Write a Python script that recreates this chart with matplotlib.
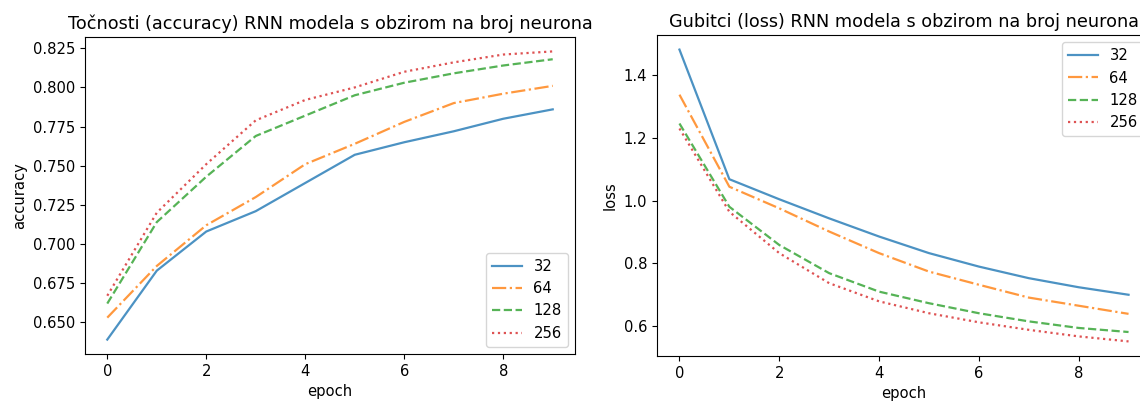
import matplotlib
matplotlib.use("Agg")
import matplotlib.pyplot as plt

epochs = list(range(10))
neurons = ["32", "64", "128", "256"]

acc_32 = [0.639, 0.683, 0.708, 0.721, 0.739, 0.757, 0.765, 0.772, 0.780, 0.786]
acc_64 = [0.653, 0.686, 0.712, 0.730, 0.751, 0.764, 0.778, 0.790, 0.796, 0.801]
acc_128 = [0.662, 0.714, 0.743, 0.769, 0.782, 0.795, 0.803, 0.809, 0.814, 0.818]
acc_256 = [0.667, 0.720, 0.751, 0.779, 0.792, 0.800, 0.810, 0.816, 0.821, 0.823]

loss_32 = [1.482, 1.068, 1.004, 0.943, 0.885, 0.832, 0.789, 0.752, 0.723, 0.699]
loss_64 = [1.338, 1.044, 0.975, 0.901, 0.832, 0.773, 0.731, 0.690, 0.664, 0.638]
loss_128 = [1.246, 0.980, 0.858, 0.768, 0.709, 0.672, 0.640, 0.614, 0.593, 0.580]
loss_256 = [1.230, 0.964, 0.832, 0.736, 0.678, 0.640, 0.611, 0.587, 0.566, 0.550]

colors = ["#1f77b4", "#ff7f0e", "#2ca02c", "#d62728"]
styles = ["-", "-.", "--", ":"]

plt.rcParams["font.size"] = 10.6
plt.rcParams["axes.titlesize"] = 12.7


def draw(ax, series, ylabel, title, legend_loc):
    for values, name, color, ls in zip(series, neurons, colors, styles):
        ax.plot(epochs, values, color=color, ls=ls, lw=1.6, alpha=0.8, label=name)
    ax.set_xticks([0, 2, 4, 6, 8])
    ax.set_xlabel("epoch")
    ax.set_ylabel(ylabel)
    ax.set_title(title)
    ax.legend(loc=legend_loc)


fig = plt.figure(figsize=(11.4, 4.03), dpi=100)
ax1 = fig.add_axes([85 / 1140, 49 / 403, 490 / 1140, 317 / 403])
ax2 = fig.add_axes([657 / 1140, 47 / 403, 494 / 1140, 321 / 403])

draw(ax1, [acc_32, acc_64, acc_128, acc_256], "accuracy",
     "Točnosti (accuracy) RNN modela s obzirom na broj neurona", "lower right")
draw(ax2, [loss_32, loss_64, loss_128, loss_256], "loss",
     "Gubitci (loss) RNN modela s obzirom na broj neurona", "upper right")
ax2.set_yticks([0.6, 0.8, 1.0, 1.2, 1.4])

fig.savefig("out.png", dpi=100)
